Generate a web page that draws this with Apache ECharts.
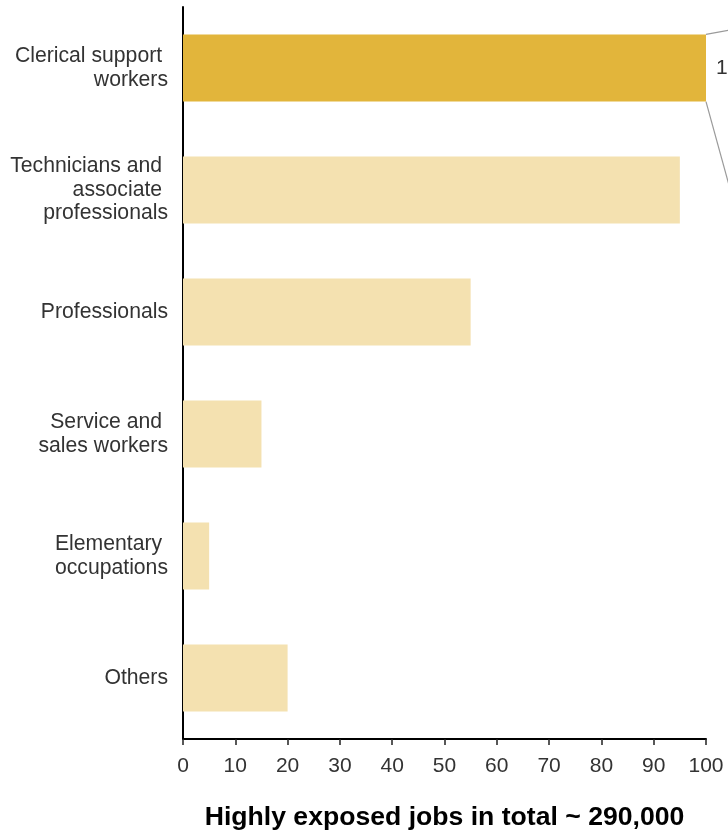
<!DOCTYPE html>
<html>
<head>
<meta charset="utf-8">
<script src="https://cdn.jsdelivr.net/npm/echarts@6/dist/echarts.min.js"></script>
<style>
  html, body { margin: 0; padding: 0; background: #fff; }
  #chart { width: 728px; height: 832px; }
</style>
</head>
<body>
<div id="chart"></div>
<script>
// Occupation groups (top to bottom) and share of highly exposed jobs
const categories = [
  'Clerical support \nworkers',
  'Technicians and \nassociate \nprofessionals',
  'Professionals',
  'Service and \nsales workers',
  'Elementary \noccupations',
  'Others'
];
const values = [100, 95, 55, 15, 5, 20];
const xTicks = { min: 0, max: 100, step: 10 };
const axisTitle = 'Highly exposed jobs in total ~ 290,000';

const HIGHLIGHT = '#E2B53B';
const MUTED = '#F4E1B0';
const FONT = 'Liberation Sans, Arial, sans-serif';

const chart = echarts.init(document.getElementById('chart'), null, { renderer: 'canvas' });

chart.setOption({
  animation: false,
  grid: { left: 183, right: 22, top: 7, bottom: 93, containLabel: false, outerBoundsMode: 'none' },
  xAxis: {
    type: 'value',
    min: xTicks.min,
    max: xTicks.max,
    interval: xTicks.step,
    splitLine: { show: false },
    axisLine: { show: true, lineStyle: { color: '#000', width: 2 } },
    axisTick: { show: true, length: 6, lineStyle: { color: '#222', width: 1.5 } },
    axisLabel: { color: '#333', fontSize: 21, fontFamily: FONT, margin: 17 },
    name: axisTitle,
    nameLocation: 'middle',
    nameGap: 65,
    nameTextStyle: { color: '#000', fontSize: 26.6, fontWeight: 'bold', fontFamily: FONT }
  },
  yAxis: {
    type: 'category',
    inverse: true,
    data: categories,
    axisLine: { show: true, lineStyle: { color: '#000', width: 2 } },
    axisTick: { show: false },
    axisLabel: {
      color: '#333', fontSize: 21.2, fontFamily: FONT, margin: 15,
      lineHeight: 23.5, align: 'right', padding: [8, 0, 0, 0]
    }
  },
  series: [{
    type: 'bar',
    barCategoryGap: '45%',
    data: values.map((v, i) => ({
      value: v,
      itemStyle: { color: i === 0 ? HIGHLIGHT : MUTED },
      label: i === 0
        ? { show: true, position: 'right', distance: 10, formatter: '{c}%', color: '#333', fontSize: 21, fontFamily: FONT }
        : { show: false }
    }))
  }]
});

// Callout connectors leaving the highlighted bar's right corners
function drawConnectors() {
  const band = chart.getModel().getComponent('yAxis').axis.getBandWidth();
  const half = band * 0.55 / 2;
  const end = chart.convertToPixel({ gridIndex: 0 }, [values[0], 0]);
  const x0 = end[0];
  const top = end[1] - half;
  const bottom = end[1] + half;
  const style = { stroke: '#9a9a9a', lineWidth: 1.2 };
  chart.setOption({
    graphic: [
      { type: 'line', silent: true, shape: { x1: x0, y1: top, x2: x0 + 44, y2: top - 8 }, style },
      { type: 'line', silent: true, shape: { x1: x0, y1: bottom, x2: x0 + 44, y2: bottom + 160 }, style }
    ]
  });
}
drawConnectors();
</script>
</body>
</html>
